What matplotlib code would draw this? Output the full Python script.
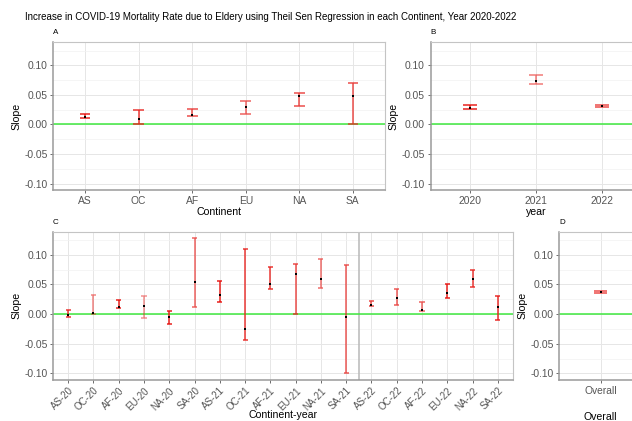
import matplotlib
matplotlib.use('Agg')
import matplotlib.pyplot as plt
import numpy as np

plt.rcParams['font.family'] = ['Liberation Sans', 'DejaVu Sans']
plt.rcParams['axes.unicode_minus'] = False

# panel A: by continent
continents = ['AS', 'OC', 'AF', 'EU', 'NA', 'SA']
cont_slope = [0.0118, 0.0090, 0.0157, 0.0292, 0.0478, 0.0478]
cont_low = [0.0101, 0.0010, 0.0140, 0.0174, 0.0320, 0.0000]
cont_high = [0.0174, 0.0236, 0.0258, 0.0400, 0.0540, 0.0700]
cont_weight = [0.8, 0.7, 0.6, 0.5, 0.6, 0.6]

# panel B: by year
years = ['2020', '2021', '2022']
year_slope = [0.0270, 0.0736, 0.0315]
year_low = [0.0253, 0.0690, 0.0300]
year_high = [0.0337, 0.0840, 0.0330]
year_weight = [0.85, 0.4, 0.6]

# panel C: continent-year
cy_labels = ['AS-20', 'OC-20', 'AF-20', 'EU-20', 'NA-20', 'SA-20',
             'AS-21', 'OC-21', 'AF-21', 'EU-21', 'NA-21', 'SA-21',
             'AS-22', 'OC-22', 'AF-22', 'EU-22', 'NA-22', 'SA-22']
cy_slope = [-0.0017, 0.0022, 0.0124, 0.0135, -0.0056, 0.0550,
            0.0320, -0.0253, 0.0500, 0.0674, 0.0590, -0.0056,
            0.0152, 0.0280, 0.0062, 0.0365, 0.0600, 0.0129]
cy_low = [-0.0045, 0.0010, 0.0110, -0.0073, -0.0174, 0.0124,
          0.0197, -0.0440, 0.0416, -0.0005, 0.0433, -0.0994,
          0.0130, 0.0150, 0.0050, 0.0264, 0.0455, -0.0096]
cy_high = [0.0073, 0.0326, 0.0240, 0.0310, 0.0060, 0.1280,
           0.0560, 0.1100, 0.0787, 0.0840, 0.0933, 0.0830,
           0.0230, 0.0420, 0.0197, 0.0506, 0.0740, 0.0303]
cy_weight = [0.7, 0.35, 0.9, 0.3, 0.8, 0.5,
             0.8, 0.7, 0.7, 0.6, 0.45, 0.55,
             0.6, 0.55, 0.5, 0.8, 0.7, 0.75]

# panel D: overall
overall = ['Overall']
overall_slope = [0.0370]
overall_low = [0.0354]
overall_high = [0.0390]
overall_weight = [0.6]

RED = '#E8231F'
GREEN = '#3FE83F'


def draw_panel(ax, labels, slope, low, high, weight, letter, xlabel, rotate=False):
    x = np.arange(len(labels))
    ax.set_xlim(-0.6, len(labels) - 0.4)
    ax.set_ylim(-0.111, 0.139)
    ax.set_yticks([-0.10, -0.05, 0.0, 0.05, 0.10])
    ax.set_yticks([-0.075, -0.025, 0.025, 0.075, 0.125], minor=True)
    ax.yaxis.set_major_formatter(matplotlib.ticker.FormatStrFormatter('%.2f'))
    ax.set_xticks(x)
    if rotate:
        ax.set_xticklabels(labels, rotation=45, ha='right', rotation_mode='anchor',
                           fontsize=7.0)
    else:
        ax.set_xticklabels(labels)
    ax.grid(which='major', color='#E6E6E6', lw=0.7, zorder=0)
    ax.grid(which='minor', axis='y', color='#F2F2F2', lw=0.5, zorder=0)
    ax.set_axisbelow(True)
    ax.tick_params(which='major', length=2.5, width=0.6, color='#555555',
                   labelcolor='#555555', pad=1.5)
    ax.tick_params(axis='y', labelsize=7.4)
    if not rotate:
        ax.tick_params(axis='x', labelsize=7.4)
    ax.tick_params(which='minor', length=0)
    for side in ['top', 'right']:
        ax.spines[side].set_color('#C4C4C4')
        ax.spines[side].set_linewidth(0.8)
    for side in ['left', 'bottom']:
        ax.spines[side].set_color('#9A9A9A')
        ax.spines[side].set_linewidth(1.1)
    ax.axhline(0, color=GREEN, lw=1.1, zorder=2)
    for xi, lo, hi, w in zip(x, low, high, weight):
        ax.plot([xi - 0.1, xi + 0.1, np.nan, xi, xi, np.nan, xi - 0.1, xi + 0.1],
                [lo, lo, np.nan, lo, hi, np.nan, hi, hi],
                color=RED, alpha=min(1.0, 0.2 + w), lw=1.1, zorder=3,
                solid_capstyle='butt')
    ax.scatter(x, slope, s=4, c='black', marker='s', zorder=4, linewidths=0)
    ax.set_ylabel('Slope', fontsize=7.6, labelpad=2)
    ax.set_xlabel(xlabel, fontsize=7.6, labelpad=1)
    ax.text(0.0, 1.04, letter, transform=ax.transAxes, fontsize=5.8,
            ha='left', va='bottom')


fig = plt.figure(figsize=(6.32, 4.21), dpi=100)
W, H = 632.0, 421.0


def add_ax(left, right, top, bottom):
    return fig.add_axes([left / W, 1 - bottom / H, (right - left) / W, (bottom - top) / H])


ax_a = add_ax(53, 385, 42.3, 190)
ax_b = add_ax(430.5, 641.5, 42.3, 190)
ax_c = add_ax(53, 513, 231.7, 380)
ax_d = add_ax(559, 642, 231.7, 380)

draw_panel(ax_a, continents, cont_slope, cont_low, cont_high, cont_weight, 'A', 'Continent')
draw_panel(ax_b, years, year_slope, year_low, year_high, year_weight, 'B', 'year')
draw_panel(ax_c, cy_labels, cy_slope, cy_low, cy_high, cy_weight, 'C', 'Continent-year', rotate=True)
draw_panel(ax_d, overall, overall_slope, overall_low, overall_high, overall_weight, 'D', 'Overall')

ax_c.axvline(11.5, color='#BDBDBD', lw=1.2, zorder=1)
ax_c.xaxis.set_label_coords(0.5, (380 - 409.5) / 148.3)
ax_d.xaxis.set_label_coords(0.5, (380 - 411.5) / 148.3)

fig.text(271 / W, 1 - 17 / H,
         'Increase in COVID-19 Mortality Rate due to Eldery using Theil Sen Regression in each Continent, Year 2020-2022',
         ha='center', va='center', fontsize=7.05)

fig.savefig('out.png', dpi=100)
